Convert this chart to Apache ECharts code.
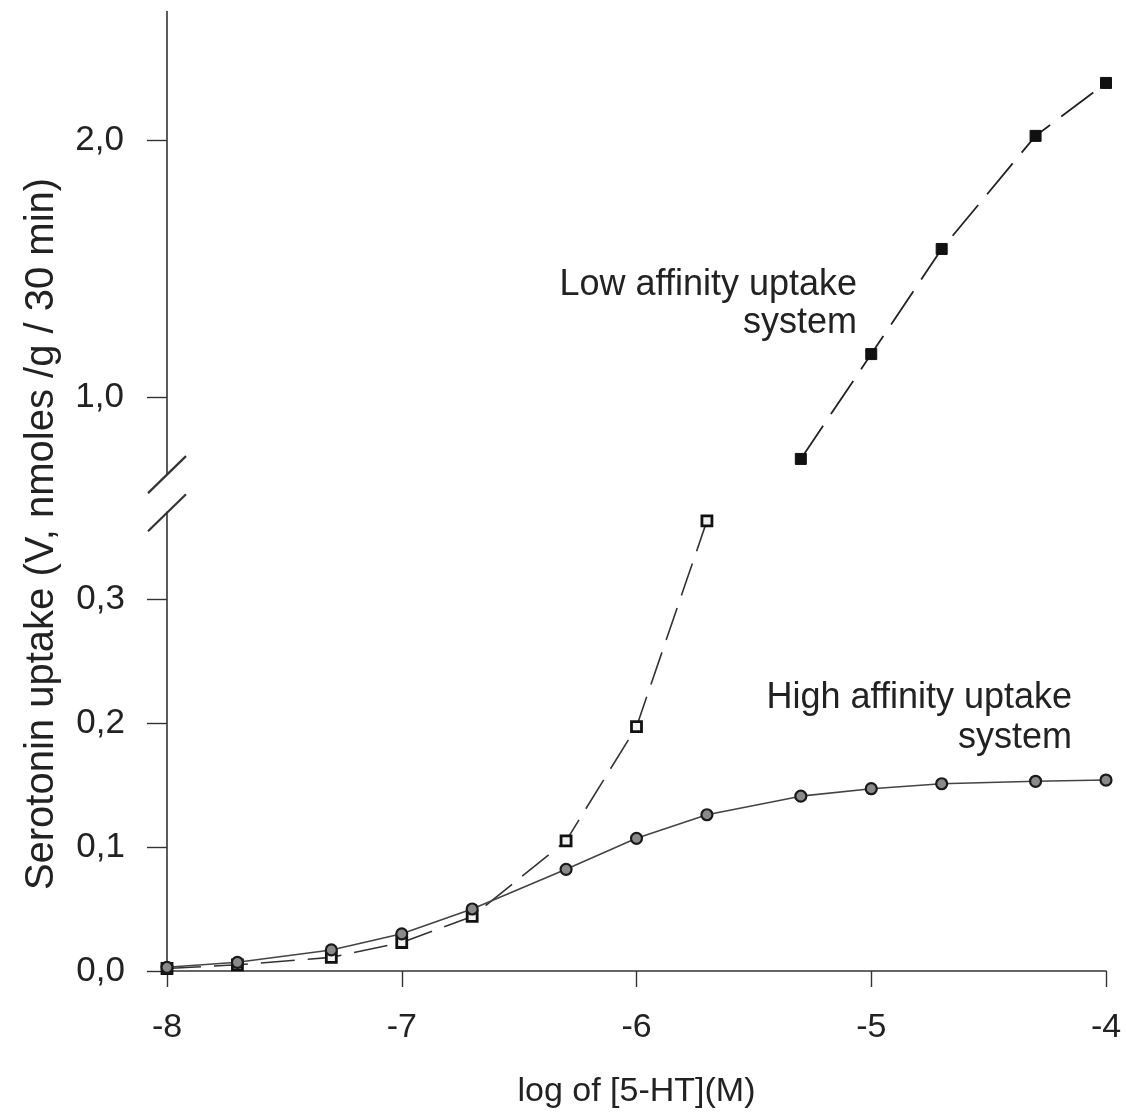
<!DOCTYPE html>
<html>
<head>
<meta charset="utf-8">
<script src="https://cdn.jsdelivr.net/npm/echarts@6/dist/echarts.min.js"></script>
<style>
html,body{margin:0;padding:0;background:#fff;}
#chart{width:1126px;height:1118px;}
</style>
</head>
<body>
<div id="chart"></div>
<script>
// log [5-HT] (M)
const xValues = [-8, -7.7, -7.3, -7, -6.7, -6.3, -6, -5.7, -5.3, -5, -4.7, -4.3, -4];
// High affinity uptake system (lower axis segment)
const highAffinity = [0.003, 0.007, 0.017, 0.030, 0.050, 0.082, 0.107, 0.126, 0.141, 0.147, 0.151, 0.153, 0.154];
// Low affinity uptake system, points on the lower (0 – 0.37) segment
const lowAffinityLowerX = [-8, -7.7, -7.3, -7, -6.7, -6.3, -6, -5.7];
const lowAffinityLower = [0.002, 0.005, 0.011, 0.023, 0.044, 0.105, 0.197, 0.363];
// Low affinity uptake system, points on the upper (0.7 – 2.5) segment
const lowAffinityUpperX = [-5.3, -5, -4.7, -4.3, -4];
const lowAffinityUpper = [0.759, 1.167, 1.576, 2.016, 2.222];
// tick labels
const xTicks = [-8, -7, -6, -5, -4];
const yTicksLower = [0, 0.1, 0.2, 0.3];
const yTicksUpper = [1, 2];

const FONT = 'Liberation Sans, Arial, sans-serif';
const INK = '#222';

function pairs(xs, ys){ return xs.map((x,i)=>[x, ys[i]]); }
const fmtComma = v => (Math.round(v*10)/10).toFixed(1).replace('.', ',');

const chart = echarts.init(document.getElementById('chart'), null, {renderer:'canvas'});

const axisLineStyle = {color:'#333', width:1.6};

const option = {
  backgroundColor:'#fff',
  animation:false,
  grid:[
    {left:167, right:20, top:11.5, height:462.6, containLabel:false, outerBoundsMode:'none'},
    {left:167, right:20, top:512.2, height:458.8, containLabel:false, outerBoundsMode:'none'}
  ],
  xAxis:[
    {type:'value', gridIndex:0, min:-8, max:-4, interval:1, show:false, splitLine:{show:false}},
    {type:'value', gridIndex:1, min:-8, max:-4, interval:1,
     axisLine:{show:true, onZero:false, lineStyle:axisLineStyle},
     axisTick:{show:true, inside:false, length:16, customValues:xTicks, lineStyle:{color:'#333', width:1.4}},
     axisLabel:{margin:40, fontFamily:FONT, fontSize:34, color:INK, customValues:xTicks, formatter:v=>String(v)},
     splitLine:{show:false},
     name:'log of [5-HT](M)', nameLocation:'middle', nameGap:104,
     nameTextStyle:{fontFamily:FONT, fontSize:34, color:INK}}
  ],
  yAxis:[
    {type:'value', gridIndex:0, min:0.7, max:2.5,
     axisLine:{show:true, onZero:false, lineStyle:axisLineStyle},
     axisTick:{show:true, inside:false, length:20, customValues:yTicksUpper, lineStyle:{color:'#333', width:1.4}},
     axisLabel:{margin:43, fontFamily:FONT, fontSize:35, color:INK, customValues:yTicksUpper, formatter:fmtComma},
     splitLine:{show:false}},
    {type:'value', gridIndex:1, min:0, max:0.37,
     axisLine:{show:true, onZero:false, lineStyle:axisLineStyle},
     axisTick:{show:true, inside:false, length:20, customValues:yTicksLower, lineStyle:{color:'#333', width:1.4}},
     axisLabel:{margin:42, fontFamily:FONT, fontSize:35, color:INK, customValues:yTicksLower, formatter:fmtComma},
     splitLine:{show:false}}
  ],
  series:[
    {name:'Low affinity (lower)', type:'line', xAxisIndex:1, yAxisIndex:1,
     data:pairs(lowAffinityLowerX, lowAffinityLower),
     symbol:'rect', symbolSize:10, showAllSymbol:true,
     lineStyle:{color:'#333', width:1.6, type:[34,13]},
     itemStyle:{color:'#f2f2f2', borderColor:'#111', borderWidth:2.8}, z:2},
    {name:'High affinity', type:'line', xAxisIndex:1, yAxisIndex:1,
     data:pairs(xValues, highAffinity),
     symbol:'circle', symbolSize:11, showAllSymbol:true,
     lineStyle:{color:'#444', width:1.6},
     itemStyle:{color:'#8a8a8a', borderColor:'#1a1a1a', borderWidth:2.2}, z:3},
    {name:'Low affinity (upper)', type:'line', xAxisIndex:0, yAxisIndex:0,
     data:pairs(lowAffinityUpperX, lowAffinityUpper),
     symbol:'rect', symbolSize:11, showAllSymbol:true,
     lineStyle:{color:'#222', width:1.8, type:[40,14]},
     itemStyle:{color:'#111', borderColor:'#111', borderWidth:1}, z:2}
  ]
};
chart.setOption(option);

// axis-break slashes at the ends of the two y-axis segments, annotations
const upperEnd = chart.convertToPixel({gridIndex:0}, [-8, 0.7]);
const lowerEnd = chart.convertToPixel({gridIndex:1}, [-8, 0.37]);
function slash(p){
  return {type:'line', shape:{x1:p[0]-19, y1:p[1]+19, x2:p[0]+19, y2:p[1]-18},
          style:{stroke:'#333', lineWidth:2.2}, z:10};
}
chart.setOption({
  graphic:[
    slash(upperEnd), slash(lowerEnd),
    {type:'text', x:857, y:304, z:10,
     style:{text:'Low affinity uptake\nsystem', font:'36px ' + FONT, fill:INK,
            align:'right', verticalAlign:'middle', lineHeight:38}},
    {type:'text', x:1072, y:718, z:10,
     style:{text:'High affinity uptake\nsystem', font:'36px ' + FONT, fill:INK,
            align:'right', verticalAlign:'middle', lineHeight:40}},
    {type:'text', x:42, y:534, rotation:Math.PI/2, z:10,
     style:{text:'Serotonin uptake (V, nmoles /g / 30 min)', font:'40px ' + FONT, fill:INK,
            align:'center', verticalAlign:'middle'}}
  ]
});
</script>
</body>
</html>
